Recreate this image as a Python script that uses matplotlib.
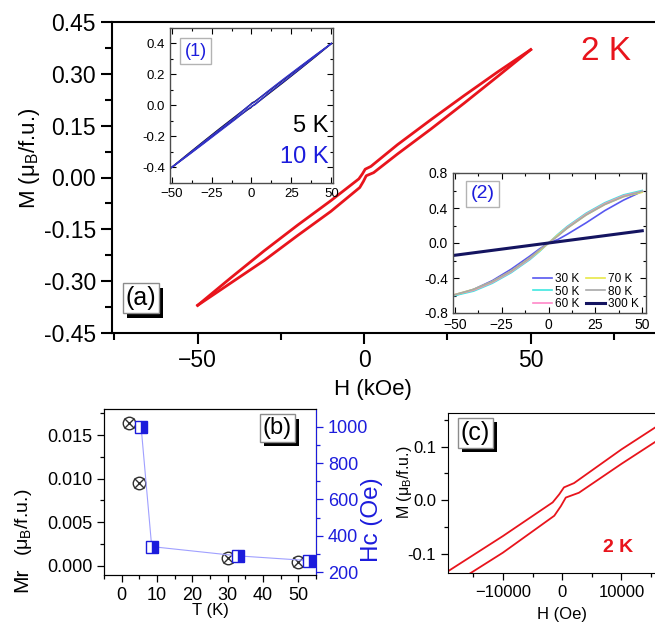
import numpy as np
import matplotlib
matplotlib.use("Agg")
import matplotlib.pyplot as plt
import matplotlib.patheffects as pe
from matplotlib.ticker import MultipleLocator, FormatStrFormatter

plt.rcParams['font.family'] = ['Liberation Sans', 'DejaVu Sans']
plt.rcParams['mathtext.fontset'] = 'custom'
plt.rcParams['mathtext.rm'] = 'Liberation Sans'

# 2 K loop (H in Oe) (a) and (c)
h_down = [50000, 40000, 30000, 20000, 10000, 2000, 300, -500, -1600, -10000, -20000, -30000, -40000, -50000]
m_down = [0.370, 0.305, 0.237, 0.167, 0.095, 0.032, 0.024, 0.011, -0.004, -0.067, -0.138, -0.212, -0.290, -0.370]
h_up = [-50000, -40000, -30000, -20000, -10000, -1330, -220, 610, 2830, 10000, 20000, 30000, 40000, 50000]
m_up = [-0.370, -0.305, -0.240, -0.168, -0.098, -0.029, -0.011, 0.005, 0.014, 0.068, 0.140, 0.215, 0.292, 0.370]

# inset (1): 5 K and 10 K loops (kOe)
h1_down = [50, 40, 30, 20, 10, 2, 0.5, -0.5, -2, -10, -20, -30, -40, -50]
h1_up = [-50, -40, -30, -20, -10, -2, -0.5, 0.5, 2, 10, 20, 30, 40, 50]
m5_down = [0.40, 0.323, 0.245, 0.166, 0.087, 0.025, 0.018, 0.008, -0.006, -0.070, -0.150, -0.232, -0.315, -0.40]
m5_up = [-0.40, -0.322, -0.243, -0.163, -0.085, -0.024, -0.015, -0.004, 0.006, 0.070, 0.150, 0.232, 0.315, 0.40]
m10_down = [0.40, 0.325, 0.248, 0.170, 0.090, 0.022, 0.014, 0.006, -0.004, -0.075, -0.155, -0.236, -0.318, -0.40]
m10_up = [-0.40, -0.324, -0.246, -0.167, -0.088, -0.020, -0.012, -0.003, 0.004, 0.074, 0.154, 0.235, 0.318, 0.40]

# inset (2): higher temperatures (kOe)
h2 = [-50, -40, -30, -20, -10, -5, 0, 5, 10, 20, 30, 40, 50]
m30 = [-0.60, -0.53, -0.43, -0.30, -0.15, -0.07, 0.0, 0.04, 0.10, 0.23, 0.37, 0.49, 0.59]
m50 = [-0.60, -0.55, -0.46, -0.34, -0.19, -0.10, 0.0, 0.10, 0.19, 0.34, 0.46, 0.55, 0.60]
m60 = [-0.59, -0.54, -0.45, -0.33, -0.18, -0.09, 0.0, 0.09, 0.18, 0.33, 0.45, 0.54, 0.59]
m70 = [-0.59, -0.53, -0.44, -0.32, -0.17, -0.09, 0.0, 0.09, 0.17, 0.32, 0.44, 0.53, 0.58]
m80 = [-0.59, -0.53, -0.44, -0.32, -0.17, -0.08, 0.0, 0.08, 0.17, 0.32, 0.44, 0.53, 0.59]
m300 = [-0.14, -0.112, -0.084, -0.056, -0.028, -0.014, 0.0, 0.014, 0.028, 0.056, 0.084, 0.112, 0.14]
temps2 = ["30 K", "50 K", "60 K", "70 K", "80 K", "300 K"]
colors2 = ["#5858f0", "#40e8e0", "#ff88c8", "#e8e848", "#a8a8a8", "#141460"]

# panel (b)
t_mr = [2, 5, 30, 50]
mr = [0.0164, 0.0095, 0.00085, 0.0004]
t_hc = [5.5, 8.5, 33, 53]
hc = [1000, 341, 290, 264]

W, H = 655, 623
fig = plt.figure(figsize=(W / 100, H / 100), dpi=100)


def rect(l, t, r, b):
    return [l / W, 1 - b / H, (r - l) / W, (b - t) / H]


def ftext(x, y, s, **kw):
    # text placed in pixels, measured from the top-left corner
    return fig.text(x / W, 1 - y / H, s, **kw)


red = "#e8141c"
blue = "#1c1cdc"


def label_box(ax, x, y, s, size):
    t = ax.text(x, y, s, transform=ax.transAxes, fontsize=size, ha="left", va="top", zorder=10,
                bbox=dict(boxstyle="square,pad=0.12", fc="white", ec="0.55", lw=1))
    t.get_bbox_patch().set_path_effects([pe.withSimplePatchShadow(offset=(3, -3), shadow_rgbFace="black", alpha=1.0)])


# ---- main panel (a)
ax = fig.add_axes(rect(112, 22, 660, 333))
ax.plot(np.array(h_down) / 1000, m_down, color=red, lw=2)
ax.plot(np.array(h_up) / 1000, m_up, color=red, lw=2)
ax.set_xlim(-75.7, 88.8)
ax.set_ylim(-0.45, 0.45)
ax.spines["right"].set_visible(False)
for s in ax.spines.values():
    s.set_linewidth(1.5)
ax.xaxis.set_major_locator(MultipleLocator(50))
ax.xaxis.set_minor_locator(MultipleLocator(25))
ax.yaxis.set_major_locator(MultipleLocator(0.15))
ax.yaxis.set_minor_locator(MultipleLocator(0.075))
ax.yaxis.set_major_formatter(FormatStrFormatter("%.2f"))
ax.tick_params(which="both", direction="out", width=1.5, labelsize=16.5)
ax.tick_params(which="major", length=8)
ax.tick_params(which="minor", length=5)
ftext(606, 52, "2 K", fontsize=24, color=red, ha="center", va="center")
ftext(30, 158, "M (μ$_\\mathregular{B}$/f.u.)", rotation=90, ha="center", va="center", fontsize=16)
ftext(373, 390, "H (kOe)", ha="center", va="center", fontsize=16)
label_box(ax, 0.025, 0.15, "(a)", 18)

# ---- inset (1)
a1 = fig.add_axes(rect(170, 28, 333, 183))
a1.plot(h1_down, m5_down, color="#101020", lw=1)
a1.plot(h1_up, m5_up, color="#101020", lw=1)
a1.plot(h1_down, m10_down, color="#3434d0", lw=1)
a1.plot(h1_up, m10_up, color="#3434d0", lw=1)
a1.set_xlim(-51, 51)
a1.set_ylim(-0.5, 0.5)
a1.xaxis.set_major_locator(MultipleLocator(25))
a1.xaxis.set_minor_locator(MultipleLocator(12.5))
a1.yaxis.set_major_locator(MultipleLocator(0.2))
a1.yaxis.set_minor_locator(MultipleLocator(0.1))
a1.yaxis.set_major_formatter(FormatStrFormatter("%.1f"))
a1.tick_params(which="both", top=True, right=True, direction="in", labelsize=9.5, width=0.8)
a1.tick_params(which="major", length=4)
a1.tick_params(which="minor", length=2.5)
for s in a1.spines.values():
    s.set_linewidth(1.0)
    s.set_color("0.3")
a1.text(0.09, 0.85, "(1)", transform=a1.transAxes, color=blue, fontsize=13, va="center",
        bbox=dict(boxstyle="square,pad=0.25", fc="white", ec="0.7", lw=1))
a1.text(0.97, 0.37, "5 K", transform=a1.transAxes, color="black", fontsize=17, ha="right", va="center")
a1.text(0.97, 0.17, "10 K", transform=a1.transAxes, color=blue, fontsize=17, ha="right", va="center")

# ---- inset (2)
a2 = fig.add_axes(rect(453, 173, 646, 313))
for m, lab, c in zip([m30, m50, m60, m70, m80, m300], temps2, colors2):
    a2.plot(h2, m, color=c, lw=2.2 if lab == "300 K" else 1.2, label=lab)
a2.set_xlim(-51, 52)
a2.set_ylim(-0.8, 0.8)
a2.xaxis.set_major_locator(MultipleLocator(25))
a2.xaxis.set_minor_locator(MultipleLocator(12.5))
a2.yaxis.set_major_locator(MultipleLocator(0.4))
a2.yaxis.set_minor_locator(MultipleLocator(0.2))
a2.yaxis.set_major_formatter(FormatStrFormatter("%.1f"))
a2.tick_params(which="both", top=True, right=True, direction="in", labelsize=10, width=0.8)
a2.tick_params(which="major", length=4)
a2.tick_params(which="minor", length=2.5)
for s in a2.spines.values():
    s.set_linewidth(1.0)
    s.set_color("0.3")
a2.text(0.09, 0.85, "(2)", transform=a2.transAxes, color=blue, fontsize=14, va="center",
        bbox=dict(boxstyle="square,pad=0.25", fc="white", ec="0.7", lw=1))
a2.legend(ncol=2, loc="lower right", bbox_to_anchor=(1.0, -0.03), fontsize=8.5, frameon=False,
          handlelength=1.6, handletextpad=0.3, columnspacing=0.5, labelspacing=0.05, borderaxespad=0.2)

# ---- panel (b)
ab = fig.add_axes(rect(104, 409, 316, 575))
ab.plot(t_mr, mr, "o", ms=9, mfc="none", mec="#303030", mew=1)
ab.plot(t_mr, mr, "x", ms=6.5, mec="#303030", mew=1)
ab.set_xlim(-5, 55)
ab.set_ylim(-0.00107, 0.018)
ab.xaxis.set_major_locator(MultipleLocator(10))
ab.xaxis.set_minor_locator(MultipleLocator(5))
ab.yaxis.set_major_locator(MultipleLocator(0.005))
ab.yaxis.set_minor_locator(MultipleLocator(0.0025))
ab.yaxis.set_major_formatter(FormatStrFormatter("%.3f"))
ab.tick_params(which="both", direction="out", labelsize=13, width=0.9)
ab.tick_params(which="major", length=5)
ab.tick_params(which="minor", length=3)
ftext(210, 611, "T (K)", ha="center", va="center", fontsize=12)
ftext(22, 580, "Mr", rotation=90, ha="center", va="center", fontsize=15)
ftext(24, 522, "(μ$_\\mathregular{B}$/f.u.)", rotation=90, ha="center", va="center", fontsize=14)
label_box(ab, 0.75, 0.95, "(b)", 17)

abr = ab.twinx()
abr.plot(t_hc, hc, "-", color="#a0a0ff", lw=0.8)
abr.plot(t_hc, hc, "s", ms=8, fillstyle="right", mfc=blue, mfcalt="white", mec=blue, mew=1)
abr.set_ylim(185, 1097)
abr.yaxis.set_major_locator(MultipleLocator(200))
abr.yaxis.set_minor_locator(MultipleLocator(100))
abr.tick_params(which="both", direction="out", labelsize=13, colors=blue, width=0.9)
abr.tick_params(which="major", length=5)
abr.tick_params(which="minor", length=3)
abr.spines["right"].set_color(blue)
ftext(372, 520, "Hc (Oe)", rotation=90, ha="center", va="center", fontsize=17.5, color=blue)

# ---- panel (c)
ac = fig.add_axes(rect(448, 413, 660, 573))
ac.plot(h_down, m_down, color=red, lw=1.3)
ac.plot(h_up, m_up, color=red, lw=1.3)
ac.set_xlim(-19260, 16500)
ac.set_ylim(-0.136, 0.163)
ac.spines["right"].set_visible(False)
ac.xaxis.set_major_locator(MultipleLocator(10000))
ac.xaxis.set_minor_locator(MultipleLocator(5000))
ac.yaxis.set_major_locator(MultipleLocator(0.1))
ac.yaxis.set_minor_locator(MultipleLocator(0.05))
ac.yaxis.set_major_formatter(FormatStrFormatter("%.1f"))
ac.tick_params(which="both", direction="out", labelsize=12, width=0.9)
ac.tick_params(which="major", length=5)
ac.tick_params(which="minor", length=3)
ftext(618, 548, "2 K", fontsize=14, color=red, fontweight="bold", ha="center", va="center")
ftext(405, 482, "M (μ$_\\mathregular{B}$/f.u.)", rotation=90, ha="center", va="center", fontsize=11.5)
ftext(562, 614, "H (Oe)", ha="center", va="center", fontsize=12)
label_box(ac, 0.06, 0.95, "(c)", 18)

fig.savefig("out.png", dpi=100)
